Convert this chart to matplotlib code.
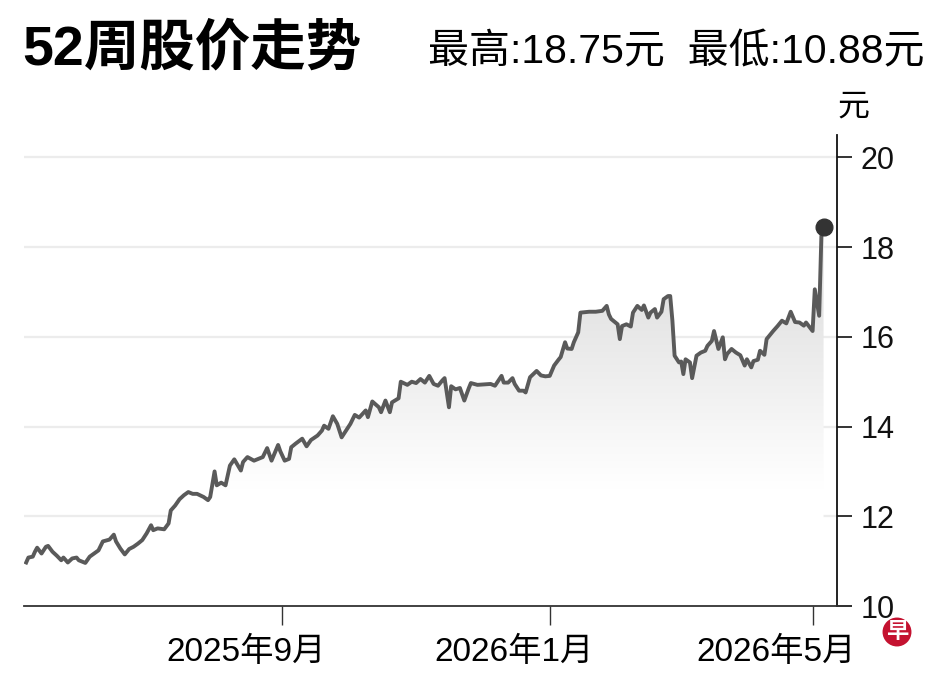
import matplotlib
matplotlib.use('Agg')
import matplotlib.pyplot as plt
import matplotlib.dates as mdates
from matplotlib import font_manager
from matplotlib.colors import LinearSegmentedColormap
from matplotlib.transforms import ScaledTranslation
import numpy as np
import pandas as pd

dates = [
    '2025-05-07', '2025-05-08', '2025-05-10', '2025-05-11', '2025-05-12',
    '2025-05-14', '2025-05-16', '2025-05-17', '2025-05-19', '2025-05-21',
    '2025-05-23', '2025-05-24', '2025-05-26', '2025-05-28', '2025-05-30',
    '2025-05-31', '2025-06-03', '2025-06-05', '2025-06-07', '2025-06-09',
    '2025-06-11', '2025-06-14', '2025-06-16', '2025-06-17', '2025-06-19',
    '2025-06-21', '2025-06-23', '2025-06-25', '2025-06-27', '2025-06-29',
    '2025-07-01', '2025-07-03', '2025-07-04', '2025-07-06', '2025-07-09',
    '2025-07-11', '2025-07-12', '2025-07-14', '2025-07-16', '2025-07-18',
    '2025-07-20', '2025-07-22', '2025-07-24', '2025-07-27', '2025-07-29',
    '2025-07-30', '2025-08-01', '2025-08-02', '2025-08-04', '2025-08-06',
    '2025-08-08', '2025-08-10', '2025-08-13', '2025-08-14', '2025-08-16',
    '2025-08-19', '2025-08-23', '2025-08-25', '2025-08-27', '2025-08-30',
    '2025-08-31', '2025-09-02', '2025-09-04', '2025-09-05', '2025-09-07',
    '2025-09-10', '2025-09-12', '2025-09-14', '2025-09-17', '2025-09-19',
    '2025-09-20', '2025-09-22', '2025-09-24', '2025-09-26', '2025-09-28',
    '2025-09-30', '2025-10-02', '2025-10-04', '2025-10-06', '2025-10-09',
    '2025-10-10', '2025-10-12', '2025-10-15', '2025-10-16', '2025-10-18',
    '2025-10-20', '2025-10-21', '2025-10-24', '2025-10-25', '2025-10-28',
    '2025-10-30', '2025-11-01', '2025-11-03', '2025-11-05', '2025-11-07',
    '2025-11-09', '2025-11-11', '2025-11-13', '2025-11-14', '2025-11-16',
    '2025-11-17', '2025-11-19', '2025-11-21', '2025-11-23', '2025-11-25',
    '2025-11-26', '2025-11-29', '2025-12-02', '2025-12-05', '2025-12-07',
    '2025-12-10', '2025-12-11', '2025-12-13', '2025-12-15', '2025-12-16',
    '2025-12-18', '2025-12-20', '2025-12-21', '2025-12-23', '2025-12-26',
    '2025-12-28', '2025-12-30', '2026-01-01', '2026-01-03', '2026-01-05',
    '2026-01-06', '2026-01-08', '2026-01-09', '2026-01-11', '2026-01-12',
    '2026-01-14', '2026-01-15', '2026-01-19', '2026-01-22', '2026-01-25',
    '2026-01-27', '2026-01-28', '2026-01-29', '2026-02-01', '2026-02-02',
    '2026-02-03', '2026-02-05', '2026-02-07', '2026-02-08', '2026-02-10',
    '2026-02-12', '2026-02-13', '2026-02-15', '2026-02-16', '2026-02-18',
    '2026-02-19', '2026-02-21', '2026-02-22', '2026-02-24', '2026-02-25',
    '2026-02-26', '2026-02-27', '2026-03-01', '2026-03-02', '2026-03-03',
    '2026-03-04', '2026-03-06', '2026-03-07', '2026-03-09', '2026-03-11',
    '2026-03-13', '2026-03-14', '2026-03-16', '2026-03-17', '2026-03-19',
    '2026-03-21', '2026-03-22', '2026-03-23', '2026-03-25', '2026-03-27',
    '2026-03-29', '2026-03-31', '2026-04-01', '2026-04-03', '2026-04-04',
    '2026-04-06', '2026-04-07', '2026-04-09', '2026-04-10', '2026-04-13',
    '2026-04-15', '2026-04-17', '2026-04-19', '2026-04-21', '2026-04-23',
    '2026-04-25', '2026-04-27', '2026-04-28', '2026-05-01', '2026-05-02',
    '2026-05-04', '2026-05-05', '2026-05-06',
]

prices = [
    10.97, 11.08, 11.10, 11.21, 11.30, 11.17, 11.32, 11.34, 11.21, 11.12,
    11.02, 11.08, 10.97, 11.06, 11.08, 11.02, 10.96, 11.10, 11.17, 11.24,
    11.44, 11.48, 11.59, 11.44, 11.28, 11.15, 11.27, 11.32, 11.39, 11.47,
    11.62, 11.80, 11.69, 11.73, 11.71, 11.84, 12.13, 12.24, 12.38, 12.47,
    12.54, 12.50, 12.50, 12.43, 12.36, 12.43, 13.00, 12.69, 12.75, 12.69,
    13.13, 13.27, 13.02, 13.21, 13.32, 13.24, 13.32, 13.52, 13.24, 13.59,
    13.45, 13.24, 13.28, 13.54, 13.62, 13.73, 13.56, 13.70, 13.80, 13.91,
    14.02, 13.95, 14.23, 14.06, 13.76, 13.91, 14.06, 14.26, 14.20, 14.36,
    14.21, 14.56, 14.43, 14.32, 14.58, 14.32, 14.54, 14.63, 15.00, 14.93,
    15.00, 14.97, 15.06, 14.98, 15.13, 14.95, 14.91, 15.03, 15.08, 14.43,
    14.90, 14.83, 14.86, 14.58, 14.85, 14.97, 14.93, 14.94, 14.95, 14.91,
    15.13, 14.98, 14.98, 15.08, 14.95, 14.80, 14.80, 14.76, 15.10, 15.24,
    15.14, 15.12, 15.13, 15.36, 15.49, 15.55, 15.88, 15.74, 15.73, 15.88,
    16.10, 16.54, 16.56, 16.56, 16.58, 16.69, 16.50, 16.40, 16.28, 15.95,
    16.24, 16.28, 16.23, 16.54, 16.69, 16.60, 16.70, 16.43, 16.54, 16.62,
    16.43, 16.56, 16.84, 16.91, 16.91, 16.36, 15.58, 15.43, 15.45, 15.17,
    15.50, 15.43, 15.08, 15.58, 15.65, 15.69, 15.80, 15.91, 16.13, 15.73,
    15.99, 15.50, 15.62, 15.73, 15.65, 15.59, 15.36, 15.50, 15.32, 15.46,
    15.49, 15.69, 15.60, 15.95, 16.13, 16.24, 16.36, 16.30, 16.56, 16.33,
    16.32, 16.25, 16.32, 16.13, 17.06, 16.47, 18.24, 18.45,
]

tick_dates = ['2025-09-01', '2026-01-01', '2026-05-01']
tick_labels = ['2025年9月', '2026年1月', '2026年5月']
y_ticks = [10, 12, 14, 16, 18, 20]

title = '52周股价走势'
high_low = '最高:18.75元  最低:10.88元'
unit = '元'

names = {f.name for f in font_manager.fontManager.ttflist}
narrow = 'Liberation Sans Narrow' if 'Liberation Sans Narrow' in names else 'Liberation Sans'
plt.rcParams['font.family'] = [narrow, 'Noto Sans CJK SC']

fig = plt.figure(figsize=(9.48, 6.83), dpi=100)
ax = fig.add_axes([24 / 948, 1 - 606 / 683, (836.7 - 24) / 948, (606 - 135) / 683])

x = mdates.date2num(pd.to_datetime(dates))

# grey gradient under the line
fill = ax.fill_between(x, prices, 10, color='none', lw=0)
cmap = LinearSegmentedColormap.from_list(
    'fade', [(0, '#ffffff'), (0.25, '#ffffff'), (0.7, '#e0e0e0'), (1, '#d6d6d6')])
grad = np.linspace(0, 1, 256).reshape(-1, 1)
img = ax.imshow(grad, extent=[x[0], x[-1], 10, 20.5], origin='lower',
                cmap=cmap, aspect='auto', zorder=1)
img.set_clip_path(fill.get_paths()[0], transform=ax.transData)

for v in y_ticks[1:]:
    ax.axhline(v, color='#ececec', lw=1.6, zorder=0)

ax.plot(x, prices, color='#5a5a5a', lw=2.8, zorder=3)
ax.plot(x[-1], prices[-1], 'o', ms=12, color='#333333', zorder=4)

ax.set_xlim(pd.Timestamp('2025-05-06'), pd.Timestamp('2026-05-12'))
ax.set_ylim(10, 20.5)

ax.spines['top'].set_visible(False)
ax.spines['left'].set_visible(False)
ax.spines['bottom'].set_color('#333333')
ax.spines['bottom'].set_linewidth(1.3)
ax.spines['right'].set_color('#111111')
ax.spines['right'].set_linewidth(1.3)
ax.plot([1.0, 1.018], [10, 10], color='#333333', lw=1.3,
        transform=ax.get_yaxis_transform(), clip_on=False)

ax.yaxis.tick_right()
ax.set_yticks(y_ticks)
ax.tick_params(axis='y', length=11, width=1.2, pad=6, labelsize=22, colors='#111111')

ax.set_xticks(mdates.date2num(pd.to_datetime(tick_dates)))
ax.set_xticklabels(tick_labels)
ax.tick_params(axis='x', length=14, width=1.0, pad=8, labelsize=24, color='#333333')
shift = ScaledTranslation(-0.36, 0, fig.dpi_scale_trans)
for lab in ax.get_xticklabels():
    lab.set_transform(lab.get_transform() + shift)

fig.text(22 / 948, 1 - 50 / 683, title, fontsize=40, weight='bold',
         family=['Liberation Sans', 'Noto Sans CJK SC'], ha='left', va='center')
fig.text(925 / 948, 1 - 52 / 683, high_low, fontsize=29.5, ha='right', va='center')
fig.text(853 / 948, 1 - 108 / 683, unit, fontsize=23, ha='center', va='center')
fig.text(897 / 948, 1 - 632 / 683, '早', color='white', fontsize=16, weight='bold',
         ha='center', va='center',
         bbox=dict(boxstyle='circle,pad=0.15', fc='#c41230', ec='none'))

fig.savefig('out.png', dpi=100)
